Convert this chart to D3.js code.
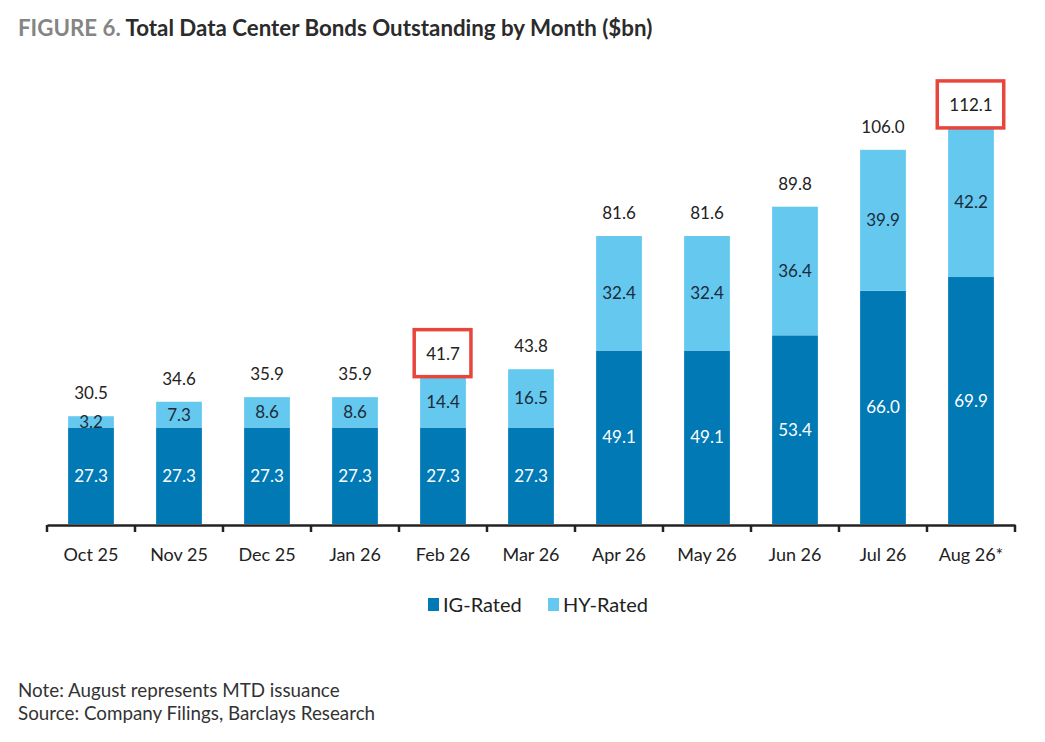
<!DOCTYPE html>
<html>
<head>
<meta charset="utf-8">
<script src="https://cdn.jsdelivr.net/npm/d3@7"></script>
<style>
  body { margin: 0; background: #fff; }
  svg { font-family: Lato, "Noto Sans", sans-serif; }
</style>
</head>
<body>
<svg width="1045" height="742"></svg>
<script>
// values
const months = ["Oct 25", "Nov 25", "Dec 25", "Jan 26", "Feb 26", "Mar 26", "Apr 26", "May 26", "Jun 26", "Jul 26", "Aug 26*"];
const igRated = [27.3, 27.3, 27.3, 27.3, 27.3, 27.3, 49.1, 49.1, 53.4, 66.0, 69.9];
const hyRated = [3.2, 7.3, 8.6, 8.6, 14.4, 16.5, 32.4, 32.4, 36.4, 39.9, 42.2];
const totals = [30.5, 34.6, 35.9, 35.9, 41.7, 43.8, 81.6, 81.6, 89.8, 106.0, 112.1];
const boxed = ["Feb 26", "Aug 26*"];
const seriesNames = ["IG-Rated", "HY-Rated"];

const colors = {"IG-Rated": "#0079b4", "HY-Rated": "#64c8ef"};

const svg = d3.select("svg");

const rows = months.map((m, i) => ({month: m, "IG-Rated": igRated[i], "HY-Rated": hyRated[i], total: totals[i]}));
const stacked = d3.stack().keys(seriesNames)(rows);

const x = d3.scaleBand()
    .domain(months)
    .range([47, 1015])
    .paddingInner(0.48)
    .paddingOuter(0.24);

const y = d3.scaleLinear()
    .domain([0, 120])
    .range([524, 100]);

// title
const title = svg.append("text")
    .attr("x", 18)
    .attr("y", 36)
    .attr("font-size", 22.3)
    .attr("font-weight", 700);
title.append("tspan").attr("fill", "#858585").text("FIGURE 6. ");
title.append("tspan").attr("fill", "#2b2b2b").text("Total Data Center Bonds Outstanding by Month ($bn)");

// bars
svg.selectAll(".series")
    .data(stacked)
    .enter()
    .append("g")
    .attr("class", "series")
    .attr("fill", d => colors[d.key])
    .selectAll("rect")
    .data(d => d)
    .enter()
    .append("rect")
    .attr("x", d => x(d.data.month))
    .attr("y", d => y(d[1]))
    .attr("width", x.bandwidth())
    .attr("height", d => y(d[0]) - y(d[1]));

// segment labels
svg.selectAll(".series-label")
    .data(stacked)
    .enter()
    .append("g")
    .attr("class", "series-label")
    .attr("fill", d => d.key === "IG-Rated" ? "#ffffff" : "#1c2b3a")
    .selectAll("text")
    .data(d => d.map(p => ({p: p, key: d.key})))
    .enter()
    .append("text")
    .attr("x", d => x(d.p.data.month) + x.bandwidth() / 2)
    .attr("y", d => (y(d.p[0]) + y(d.p[1])) / 2 + 6)
    .attr("text-anchor", "middle")
    .attr("font-size", 17)
    .text(d => d.p.data[d.key].toFixed(1));

// totals
const totalLabels = svg.selectAll(".total")
    .data(rows)
    .enter()
    .append("text")
    .attr("class", "total")
    .attr("x", d => x(d.month) + x.bandwidth() / 2)
    .attr("y", d => y(d["IG-Rated"] + d["HY-Rated"]) - 17)
    .attr("text-anchor", "middle")
    .attr("font-size", 17)
    .attr("fill", "#222")
    .text(d => d.total.toFixed(1));

// red boxes round the highlighted totals
totalLabels.filter(d => boxed.includes(d.month)).each(function() {
    const b = this.getBBox();
    svg.append("rect")
        .attr("x", b.x - 12)
        .attr("y", b.y + b.height / 2 - 23.5)
        .attr("width", b.width + 23)
        .attr("height", 47)
        .attr("fill", "none")
        .attr("stroke", "#e8453c")
        .attr("stroke-width", 3.5);
});

// x axis
const axis = svg.append("g")
    .attr("transform", "translate(0,525)")
    .call(d3.axisBottom(x).tickSize(0).tickPadding(23));
axis.select(".domain").attr("stroke", "#222").attr("stroke-width", 2.5);
axis.selectAll("text")
    .attr("font-family", "Lato, sans-serif")
    .attr("font-size", 18)
    .attr("fill", "#222");

const bounds = d3.range(months.length + 1).map(i => x.range()[0] + i * x.step());
axis.selectAll(".boundary")
    .data(bounds)
    .enter()
    .append("line")
    .attr("class", "boundary")
    .attr("x1", d => d)
    .attr("x2", d => d)
    .attr("y1", 0)
    .attr("y2", 7)
    .attr("stroke", "#222")
    .attr("stroke-width", 2.5);

// legend
const legend = svg.append("g").attr("transform", "translate(428,598)");
const items = legend.selectAll("g")
    .data(seriesNames)
    .enter()
    .append("g")
    .attr("transform", (d, i) => `translate(${i * 120},0)`);
items.append("rect")
    .attr("width", 11)
    .attr("height", 13)
    .attr("fill", d => colors[d]);
items.append("text")
    .attr("x", 15)
    .attr("y", 13.5)
    .attr("font-size", 20)
    .attr("fill", "#222")
    .text(d => d);

// notes
const notes = ["Note: August represents MTD issuance", "Source: Company Filings, Barclays Research"];
svg.selectAll(".note")
    .data(notes)
    .enter()
    .append("text")
    .attr("class", "note")
    .attr("x", 18)
    .attr("y", (d, i) => 697 + i * 23)
    .attr("font-size", 18.8)
    .attr("fill", "#333")
    .text(d => d);
</script>
</body>
</html>
